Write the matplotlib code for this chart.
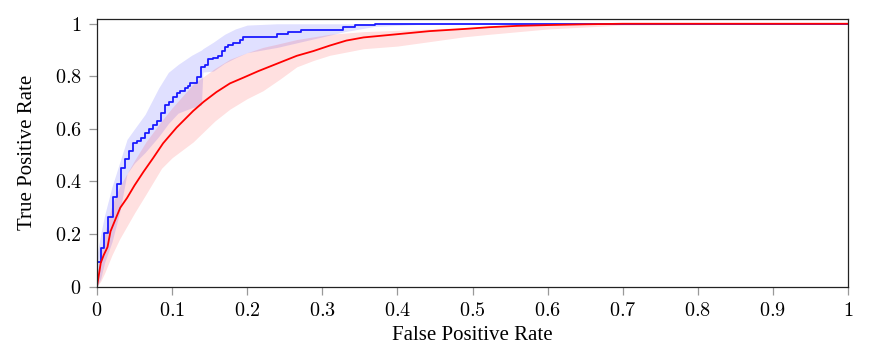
import numpy as np
import matplotlib
matplotlib.use("Agg")
import matplotlib.pyplot as plt
from matplotlib.ticker import FuncFormatter

plt.rcParams['mathtext.fontset'] = 'cm'
plt.rcParams['font.family'] = ['Liberation Serif', 'DejaVu Serif']

# Blue ROC (step curve), points after each vertical jump
blue_fpr = [0, 0, 0.0053, 0.0093, 0.0142, 0.0209, 0.0262, 0.0315, 0.0373, 0.0426, 0.0475,
            0.0528, 0.0581, 0.0639, 0.0697, 0.075, 0.0794, 0.0852, 0.0901, 0.0954,
            0.1008, 0.1061, 0.1105, 0.1172, 0.1216, 0.1238, 0.1283, 0.1327, 0.138,
            0.1438, 0.1482, 0.1549, 0.1616, 0.166, 0.1704, 0.1749, 0.1806, 0.1904,
            0.1949, 0.2392, 0.2548, 0.2720, 0.3280, 0.3440, 0.370, 1.0]
blue_tpr = [0, 0.092, 0.147, 0.204, 0.263, 0.342, 0.392, 0.45, 0.487, 0.516, 0.548,
            0.554, 0.567, 0.585, 0.599, 0.614, 0.63, 0.662, 0.691, 0.703,
            0.722, 0.735, 0.745, 0.754, 0.763, 0.773, 0.776, 0.798, 0.836,
            0.843, 0.867, 0.871, 0.877, 0.896, 0.913, 0.92, 0.926, 0.94,
            0.949, 0.96, 0.97, 0.978, 0.987, 0.996, 1.0, 1.0]

# Blue band (lower / upper edge)
blue_band_fpr = [0, 0.005, 0.01, 0.02, 0.03, 0.04, 0.05, 0.064, 0.082, 0.095, 0.108,
                 0.126, 0.139, 0.141, 0.155, 0.17, 0.184, 0.2, 0.24, 0.3, 0.33, 0.37,
                 0.45, 1.0]
blue_band_hi = [0.12, 0.2, 0.27, 0.38, 0.47, 0.56, 0.6, 0.655, 0.755, 0.815, 0.845,
                0.88, 0.9, 0.905, 0.93, 0.96, 0.98, 0.995, 1.0, 1.0, 1.0, 1.0,
                1.0, 1.0]
blue_band_lo = [0.0, 0.03, 0.09, 0.17, 0.28, 0.43, 0.47, 0.51, 0.57, 0.62, 0.66,
                0.68, 0.69, 0.816, 0.82, 0.85, 0.87, 0.89, 0.91, 0.95, 0.97, 0.99,
                1.0, 1.0]

# Red ROC
red_fpr = [0, 0.005, 0.009, 0.014, 0.018, 0.023, 0.031, 0.04, 0.05, 0.062, 0.075, 0.088,
           0.106, 0.128, 0.142, 0.159, 0.177, 0.195, 0.215, 0.244, 0.266, 0.288, 0.31,
           0.332, 0.355, 0.399, 0.443, 0.488, 0.523, 0.56, 0.6, 0.65, 0.7, 1.0]
red_tpr = [0, 0.09, 0.12, 0.15, 0.21, 0.245, 0.3, 0.337, 0.385, 0.437, 0.49, 0.545,
           0.605, 0.668, 0.703, 0.74, 0.773, 0.795, 0.82, 0.853, 0.878, 0.896, 0.917,
           0.936, 0.948, 0.96, 0.972, 0.98, 0.987, 0.992, 0.995, 0.998, 1.0, 1.0]

# Red band (lower / upper edge)
red_band_fpr = [0, 0.005, 0.01, 0.02, 0.03, 0.04, 0.05, 0.065, 0.086, 0.1, 0.128, 0.157,
                0.177, 0.2, 0.221, 0.244, 0.266, 0.288, 0.31, 0.355, 0.4, 0.443, 0.488,
                0.523, 0.6, 0.7, 1.0]
red_band_hi = [0.03, 0.13, 0.2, 0.31, 0.38, 0.43, 0.48, 0.55, 0.63, 0.68, 0.77, 0.83,
               0.865, 0.89, 0.91, 0.925, 0.94, 0.95, 0.96, 0.97, 0.975, 0.98, 0.985,
               0.988, 0.998, 1.0, 1.0]
red_band_lo = [0.0, 0.02, 0.05, 0.12, 0.18, 0.23, 0.28, 0.35, 0.45, 0.49, 0.55, 0.63,
               0.675, 0.715, 0.745, 0.79, 0.836, 0.86, 0.88, 0.905, 0.915, 0.932, 0.95,
               0.96, 0.98, 0.995, 1.0]

x_ticks = [0, 0.1, 0.2, 0.3, 0.4, 0.5, 0.6, 0.7, 0.8, 0.9, 1]
y_ticks = [0, 0.2, 0.4, 0.6, 0.8, 1]

fig = plt.figure(figsize=(8.71, 3.57), dpi=100)
ax = fig.add_axes([97/871, 1-286.5/357, (848-97)/871, (286.5-18.5)/357])

ax.fill_between(blue_band_fpr, blue_band_lo, blue_band_hi,
                color='#0000ff', alpha=0.12, linewidth=0)
ax.fill_between(red_band_fpr, red_band_lo, red_band_hi,
                color='#ff0000', alpha=0.12, linewidth=0)
ax.plot(blue_fpr, blue_tpr, drawstyle='steps-post', color='#1a1aff', lw=1.3)
ax.plot(red_fpr, red_tpr, color='#ff0000', lw=1.3)

ax.set_xlim(0, 1)
ax.set_ylim(0, 1.02)
ax.set_xticks(x_ticks)
ax.set_yticks(y_ticks)
fmt = FuncFormatter(lambda v, p: '$%s$' % ('%g' % v))
ax.xaxis.set_major_formatter(fmt)
ax.yaxis.set_major_formatter(fmt)
ax.tick_params(direction='out', length=6, width=0.9, color='#999999',
               labelsize=14.5, pad=5)
for s in ax.spines.values():
    s.set_color('#222222')
    s.set_linewidth(0.9)

ax.set_xlabel('False Positive Rate', fontsize=15, labelpad=4)
ax.set_ylabel('True Positive Rate', fontsize=15, labelpad=13)

fig.savefig('out.png', dpi=100)
